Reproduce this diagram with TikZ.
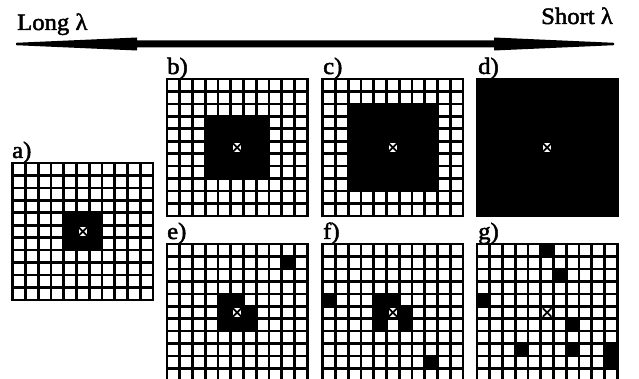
\documentclass[tikz,border=0pt]{standalone}
\usepackage{fontspec}
\setmainfont{Liberation Serif}
\newfontfamily\heavyserif{Liberation Serif}[FakeBold=2]
\newcommand\mygrid[2]{%
  \foreach \i in {0,...,11} {
    \draw[gridline] (#1+\i*12.75,#2) -- ++(0,136.95);
    \draw[gridline] (#1,#2+\i*12.45) -- ++(140.25,0);
  }
}
\newcommand\mycell[4]{\fill (#1+#3*12.75,#2+#4*12.45) rectangle ++(12.75,12.45);}
\newcommand\myblock[5]{\fill (#1+#3*12.75,#2+#3*12.45) rectangle ++(#4*12.75,#4*12.45);}
\newcommand\mymark[2]{%
  \fill[white] (#1+5.5*12.75-4.3,#2+5.5*12.45-4.3) rectangle ++(8.6,8.6);
  \draw[line width=1.7pt] (#1+5.5*12.75-4.3,#2+5.5*12.45-4.3) -- ++(8.6,8.6)
                           (#1+5.5*12.75-4.3,#2+5.5*12.45+4.3) -- ++(8.6,-8.6);
}
\newcommand\mytxt[1]{\scalebox{1.05}[1]{\heavyserif #1}}
\begin{document}
\begin{tikzpicture}[x=1pt,y=-1pt,
  lbl/.style={anchor=base west,inner sep=0pt,font=\fontsize{23.5}{23.5}\selectfont},
  gridline/.style={line width=2.6pt,line cap=rect},
]
\useasboundingbox (0,0) rectangle (639,379);
\clip (0,0) rectangle (639,379);

% title and arrow
\node[lbl] (long) at (17,30) {\mytxt{Long λ}};
\node[lbl,anchor=base east] (short) at (613,24) {\mytxt{Short λ}};
\fill (16,42.8) -- (137,37.5) -- (137,40.5) -- (494,40.5) -- (494,37.5) -- (614,42.8)
   -- (614,45.2) -- (494,50.5) -- (494,47.5) -- (137,47.5) -- (137,50.5) -- (16,45.2) -- cycle;

% labels
\node[lbl] (la) at (12,158) {\mytxt{a)}};
\node[lbl] (lb) at (167,74) {\mytxt{b)}};
\node[lbl] (lc) at (323,74) {\mytxt{c)}};
\node[lbl] (ld) at (478,74) {\mytxt{d)}};
\node[lbl] (le) at (167,239) {\mytxt{e)}};
\node[lbl] (lf) at (323,239) {\mytxt{f)}};
\node[lbl] (lg) at (478,239) {\mytxt{g)}};

% a
\myblock{12.7}{163}{4}{3}{}
\mygrid{12.7}{163}
\mymark{12.7}{163}
% b
\myblock{167}{79}{3}{5}{}
\mygrid{167}{79}
\mymark{167}{79}
% c
\myblock{322.7}{79}{2}{7}{}
\mygrid{322.7}{79}
\mymark{322.7}{79}
% d
\myblock{477}{79}{0}{11}{}
\mygrid{477}{79}
\mymark{477}{79}
% e
\foreach \c/\r in {9/1,4/4,5/4,4/5,5/5,6/5,4/6,5/6,6/6} {\mycell{167}{244}{\c}{\r}}
\mygrid{167}{244}
\mymark{167}{244}
% f
\foreach \c/\r in {0/4,4/4,5/4,4/5,5/5,6/5,4/6,6/6,8/9} {\mycell{322.7}{244}{\c}{\r}}
\mygrid{322.7}{244}
\mymark{322.7}{244}
% g
\foreach \c/\r in {5/0,6/2,0/4,7/6,3/8,7/8,10/8,10/9} {\mycell{477}{244}{\c}{\r}}
\mygrid{477}{244}
\mymark{477}{244}
\end{tikzpicture}
\end{document}
